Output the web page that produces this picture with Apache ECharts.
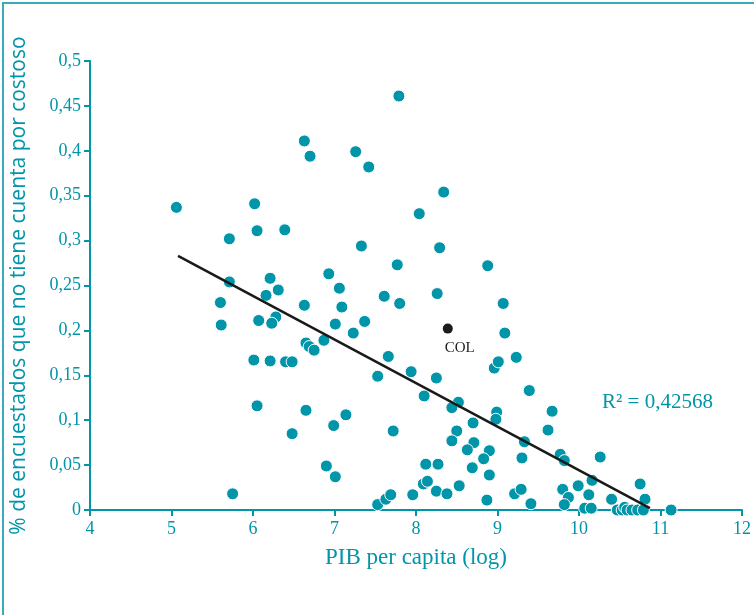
<!DOCTYPE html>
<html>
<head>
<meta charset="utf-8">
<script src="https://cdn.jsdelivr.net/npm/echarts@6/dist/echarts.min.js"></script>
<style>
  html, body { margin: 0; padding: 0; background: #fff; }
  #chart { width: 754px; height: 615px; }
</style>
</head>
<body>
<div id="chart"></div>
<script>
  // PIB per capita (log) de cada país
  var pibLog = [
    7.79, 6.63, 6.70, 7.26, 7.42, 5.06, 6.02, 6.05, 6.39, 5.71,
    7.33, 7.77, 6.93, 6.21, 7.06, 6.31, 5.71, 6.16, 7.61, 5.60,
    8.34, 8.04, 8.29, 8.88, 8.26, 7.80, 9.07, 6.63, 7.09, 5.61,
    6.07, 6.28, 6.23, 7.01, 7.37, 7.23, 6.65, 6.69, 6.75, 6.87,
    6.01, 6.21, 6.40, 6.48, 7.66, 7.53, 6.05, 6.65, 7.14, 6.99,
    7.72, 6.48, 6.90, 7.01, 5.75, 7.53, 7.63, 7.69, 9.09, 9.23,
    8.96, 9.01, 7.94, 8.25, 9.39, 8.10, 8.52, 8.44, 9.67, 8.99,
    8.98, 8.70, 9.62, 8.50, 8.44, 9.33, 8.71, 8.63, 8.90, 8.83,
    9.30, 9.77, 9.82, 10.26, 8.12, 8.27, 8.69, 8.90, 8.09, 8.14,
    8.25, 8.38, 8.53, 8.87, 7.96, 9.21, 9.29, 9.41, 9.80, 9.87,
    9.82, 9.99, 10.16, 10.12, 10.07, 10.15, 10.40, 10.75, 10.81, 10.47,
    10.53, 10.56, 10.59, 10.65, 10.72, 10.79, 11.13
  ];
  // % de encuestados sin cuenta por costoso
  var sinCuenta = [
    0.461, 0.411, 0.394, 0.399, 0.382, 0.337, 0.341, 0.311, 0.312, 0.302,
    0.294, 0.273, 0.263, 0.258, 0.247, 0.245, 0.254, 0.239, 0.238, 0.231,
    0.354, 0.330, 0.292, 0.272, 0.241, 0.230, 0.230, 0.228, 0.226, 0.206,
    0.211, 0.215, 0.208, 0.207, 0.210, 0.197, 0.186, 0.182, 0.178, 0.189,
    0.167, 0.166, 0.165, 0.165, 0.171, 0.149, 0.116, 0.111, 0.106, 0.094,
    0.088, 0.085, 0.049, 0.037, 0.018, 0.006, 0.012, 0.017, 0.197, 0.170,
    0.158, 0.165, 0.154, 0.147, 0.133, 0.127, 0.120, 0.114, 0.110, 0.109,
    0.101, 0.097, 0.089, 0.088, 0.077, 0.076, 0.075, 0.067, 0.066, 0.057,
    0.058, 0.062, 0.055, 0.059, 0.051, 0.051, 0.047, 0.039, 0.029, 0.032,
    0.021, 0.018, 0.027, 0.011, 0.017, 0.018, 0.023, 0.007, 0.023, 0.014,
    0.006, 0.027, 0.033, 0.017, 0.002, 0.002, 0.012, 0.029, 0.012, 0.000,
    0.000, 0.003, 0.000, 0.000, 0.000, 0.000, 0.000
  ];
  // Colombia
  var colX = [8.39];
  var colY = [0.202];
  // línea de tendencia
  var tendX = [5.08, 10.87];
  var tendY = [0.283, 0.002];
  var r2Texto = 'R² = 0,42568';

  var teal = '#0095a8';
  var serif = "'Liberation Serif', 'DejaVu Serif', serif";

  function zip(a, b) {
    return a.map(function (v, i) { return [v, b[i]]; });
  }

  var option = {
    backgroundColor: '#fff',
    animation: false,
    grid: { left: 90, right: 12, top: 61, bottom: 105, containLabel: false },
    xAxis: {
      type: 'value',
      min: 4, max: 12, interval: 1,
      name: 'PIB per capita (log)',
      nameLocation: 'middle',
      nameGap: 36,
      nameTextStyle: { color: teal, fontFamily: serif, fontSize: 23 },
      axisLine: { lineStyle: { color: teal, width: 2 } },
      axisTick: { show: true, inside: false, length: 6, lineStyle: { color: teal, width: 2 } },
      axisLabel: { color: teal, fontFamily: serif, fontSize: 18, margin: 10 },
      splitLine: { show: false }
    },
    yAxis: {
      type: 'value',
      min: 0, max: 0.5, interval: 0.05,
      name: '% de encuestados que no tiene cuenta por costoso',
      nameLocation: 'middle',
      nameGap: 60,
      nameTextStyle: { color: teal, fontFamily: "'Open Sans', 'DejaVu Sans', sans-serif", fontSize: 21 },
      axisLine: { show: true, lineStyle: { color: teal, width: 2 } },
      axisTick: { show: true, inside: false, length: 6, lineStyle: { color: teal, width: 2 } },
      axisLabel: {
        color: teal, fontFamily: serif, fontSize: 18, margin: 9,
        formatter: function (v) { return String(parseFloat(v.toFixed(2))).replace('.', ','); }
      },
      splitLine: { show: false }
    },
    series: [
      {
        name: 'países',
        type: 'scatter',
        data: zip(pibLog, sinCuenta),
        symbolSize: 12,
        itemStyle: { color: teal, opacity: 1, borderColor: '#fff', borderWidth: 1 },
        z: 2
      },
      {
        name: 'COL',
        type: 'scatter',
        data: zip(colX, colY),
        symbolSize: 10,
        itemStyle: { color: '#1c1c1c', opacity: 1 },
        label: {
          show: true, position: 'bottom', offset: [12, 2],
          formatter: 'COL', color: '#1c1c1c', fontFamily: serif, fontSize: 15
        },
        z: 3
      },
      {
        name: 'tendencia',
        type: 'line',
        data: zip(tendX, tendY),
        symbol: 'none',
        lineStyle: { color: '#1a1a1a', width: 2.5 },
        z: 4
      }
    ],
    graphic: [
      { type: 'rect', shape: { x: 2, y: 2, width: 752, height: 2 }, style: { fill: '#3aabb9' } },
      { type: 'rect', shape: { x: 2, y: 2, width: 2, height: 613 }, style: { fill: '#3aabb9' } },
      {
        type: 'text', left: 602, top: 392,
        style: { text: r2Texto, fill: teal, font: "21px 'Liberation Serif', serif" }
      }
    ]
  };

  var chartObj = echarts.init(document.getElementById('chart'));
  chartObj.setOption(option);
  window.addEventListener('resize', function () { chartObj.resize(); });
</script>
</body>
</html>
